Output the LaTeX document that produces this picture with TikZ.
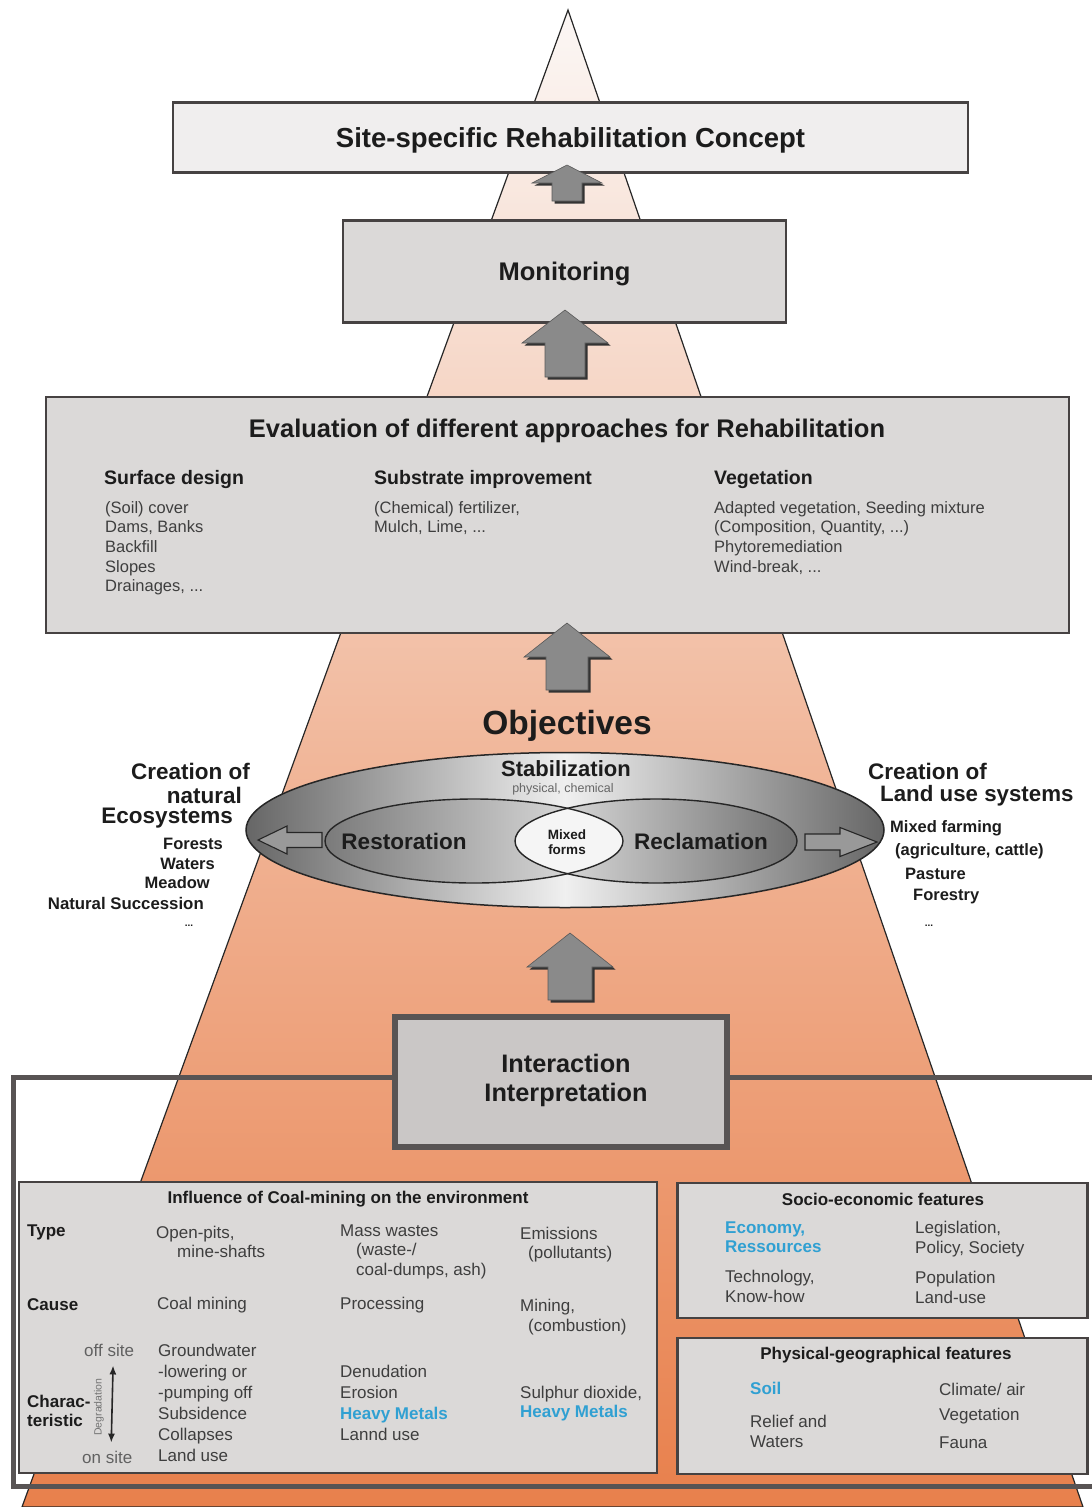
\documentclass[tikz,border=0pt]{standalone}
\usepackage{fontspec}
\setmainfont{Liberation Sans}
\usetikzlibrary{shapes.geometric,arrows.meta}

\definecolor{boxline}{RGB}{70,66,66}
\definecolor{framecol}{RGB}{88,84,84}
\definecolor{sitefill}{RGB}{240,238,238}
\definecolor{boxfill}{RGB}{219,217,216}
\definecolor{interfill}{RGB}{202,199,198}
\definecolor{titlecol}{RGB}{28,28,28}
\definecolor{itemgray}{RGB}{62,62,62}
\definecolor{hblue}{RGB}{48,160,210}
\definecolor{arrowgray}{RGB}{138,138,138}
\definecolor{pyrtop}{RGB}{251,247,245}
\definecolor{pyrmid}{RGB}{241,183,154}
\definecolor{pyrbot}{RGB}{232,128,76}

\newcommand{\hi}[1]{{\color{hblue}\bfseries #1}}
% block arrow: centre x, tip y, head base y, bottom y, head half width, shaft half width
\newcommand{\blockup}[6]{%
  \draw[blockarrow] (#1,#2) -- ({#1+#5},#3) -- ({#1+#6},#3) -- ({#1+#6},#4)
    -- ({#1-#6},#4) -- ({#1-#6},#3) -- ({#1-#5},#3) -- cycle;}

\tikzset{
  box/.style={draw=boxline, line width=2.5pt, fill=boxfill},
  frame/.style={draw=framecol, line width=5pt},
  blockarrow/.style={fill=arrowgray, draw=black!65, line width=0.6pt,
    preaction={fill=black!80, transform canvas={shift={(2.5pt,-2.5pt)}}}},
  hollow/.style={fill=black!40, draw=black!85, line width=1.1pt},
  ring/.style={draw=black!85, line width=1.4pt},
  head/.style={font=\bfseries\fontsize{25.5}{29}\selectfont, text=titlecol, align=center, text depth=0pt},
  sub/.style={font=\bfseries\fontsize{19.5}{22}\selectfont, text=titlecol, anchor=west},
  item/.style={font=\fontsize{16.5}{19.7}\selectfont, text=itemgray, anchor=north west, align=left},
  big/.style={font=\bfseries\fontsize{22.5}{24}\selectfont, text=titlecol},
  list/.style={font=\bfseries\fontsize{16.5}{18}\selectfont, text=titlecol},
  tag/.style={font=\bfseries\fontsize{17}{19}\selectfont, text=titlecol, anchor=west, align=left},
  cell/.style={font=\fontsize{17}{20}\selectfont, text=itemgray, anchor=north west, align=left}
}

\begin{document}
\begin{tikzpicture}[x=1pt,y=-1pt,every node/.style={inner sep=0pt}]
\useasboundingbox (0,0) rectangle (1092,1507);
\clip (0,0) rectangle (1092,1507);

% pyramid and frame
\shadedraw[top color=pyrtop, bottom color=pyrbot, middle color=pyrmid, draw=black!85, line width=1.2pt]
  (568,10) -- (1083,1507) -- (22,1507) -- cycle;
\draw[frame] (13,1077) rectangle (1110,1486);

% boxes
\node[box, fill=sitefill, minimum width=795pt, minimum height=70pt, head, font=\bfseries\fontsize{27.5}{30}\selectfont]
  (site) at (570.5,137.5) {Site-specific Rehabilitation Concept};
\node[box, minimum width=443pt, minimum height=102pt, head] (monitor) at (564.5,271.5) {Monitoring};
\node[box, minimum width=1023pt, minimum height=236pt] (eval) at (557.5,515) {};
\node[box, draw=framecol, line width=6pt, fill=interfill, minimum width=332pt, minimum height=130pt]
  (inter) at (561,1082) {};
\node[box, minimum width=638pt, minimum height=291pt] (infl) at (338,1327.5) {};
\node[box, minimum width=410pt, minimum height=135pt] (socio) at (882.5,1250.5) {};
\node[box, minimum width=410pt, minimum height=136pt] (phys) at (882.5,1406) {};

% arrows
\blockup{567}{165}{183}{201}{35}{15}
\blockup{565}{310}{343}{377}{43}{20}
\blockup{567}{623}{657}{690}{43}{21}
\blockup{570}{933}{967}{1000}{43}{22}

% evaluation
\node[head] (evalt) at (567,428) {Evaluation of different approaches for Rehabilitation};
\node[sub] (surf) at (104,479) {Surface design};
\node[sub] (subs) at (374,479) {Substrate improvement};
\node[sub] (veg) at (714,479) {Vegetation};
\node[item] (surfi) at (105,501) {(Soil) cover\\Dams, Banks\\Backfill\\Slopes\\Drainages, ...};
\node[item] (subsi) at (374,501) {(Chemical) fertilizer,\\Mulch, Lime, ...};
\node[item] (vegi) at (714,501) {Adapted vegetation, Seeding mixture\\(Composition, Quantity, ...)\\Phytoremediation\\Wind-break, ...};

% objectives
\node[head, font=\bfseries\fontsize{33.5}{36}\selectfont] (obj) at (567,722) {Objectives};
\node[ellipse, minimum width=638pt, minimum height=155pt, left color=black!60, right color=black!60,
  middle color=black!6, draw=black!85, line width=1.5pt] (stab) at (565,830) {};
\node[ellipse, minimum width=298pt, minimum height=84pt, left color=black!52, right color=black!8] (restor) at (474,841) {};
\node[ellipse, minimum width=282pt, minimum height=84pt, left color=black!8, right color=black!56] (reclam) at (656,841) {};
\begin{scope}
  \clip (restor.center) ellipse (149pt and 42pt);
  \fill[black!4] (reclam.center) ellipse (141pt and 42pt);
\end{scope}
\draw[ring] (restor.center) ellipse (149pt and 42pt);
\draw[ring] (reclam.center) ellipse (141pt and 42pt);
\draw[hollow] (258,840) -- (287,826) -- (287,832.5) -- (322,832.5) -- (322,847.5) -- (287,847.5) -- (287,854) -- cycle;
\draw[hollow] (877,842) -- (840,827.5) -- (840,834) -- (805,834) -- (805,850) -- (840,850) -- (840,856.5) -- cycle;
\node[big, font=\bfseries\fontsize{22}{24}\selectfont] (stabt) at (566,769) {Stabilization};
\node[font=\fontsize{12.5}{14}\selectfont, text=black!60] (stabs) at (563,789) {physical, chemical};
\node[big] (restort) at (404,841) {Restoration};
\node[big] (reclamt) at (701,841) {Reclamation};
\node[font=\bfseries\fontsize{13.5}{15.5}\selectfont, text=titlecol, align=center] (mixed) at (567,842) {Mixed\\forms};

% natural ecosystems
\node[big, anchor=east] (nat1) at (250,771) {Creation of};
\node[big, anchor=east] (nat2) at (242,795) {natural};
\node[big, anchor=east] (nat3) at (233,818) {Ecosystems};
\node[list, anchor=east] (nat4) at (223,844) {Forests};
\node[list, anchor=east] (nat5) at (215,864) {Waters};
\node[list, anchor=east] (nat6) at (210,883) {Meadow};
\node[list, anchor=east, font=\bfseries\fontsize{16.8}{18}\selectfont] (nat7) at (204,903) {Natural Succession};
\node[list, font=\bfseries\fontsize{10}{11}\selectfont] (nat8) at (189,926) {...};

% land use systems
\node[big, anchor=west] (land1) at (868,771) {Creation of};
\node[big, anchor=west, font=\bfseries\fontsize{22.3}{24}\selectfont] (land2) at (880,796) {Land use systems};
\node[list, anchor=west] (land3) at (890,828) {Mixed farming};
\node[list, anchor=west] (land4) at (895,851) {(agriculture, cattle)};
\node[list, anchor=west] (land5) at (905,874) {Pasture};
\node[list, anchor=west] (land6) at (913,897) {Forestry};
\node[list, font=\bfseries\fontsize{10}{11}\selectfont] (land7) at (929,926) {...};

% interaction
\node[head, font=\bfseries\fontsize{25.3}{29}\selectfont] (intert) at (566,1078) {Interaction\\Interpretation};

% influence of coal mining
\node[tag, anchor=center] (inflt) at (348,1199) {Influence of Coal-mining on the environment};
\node[tag] (type) at (27,1232) {Type};
\node[tag] (cause) at (27,1305) {Cause};
\node[tag, anchor=north west] (charac) at (27,1394.5) {Charac-\\teristic};
\node[cell, font=\fontsize{17}{19}\selectfont] (pits) at (156,1225.5) {Open-pits,\\\hspace*{21pt}mine-shafts};
\node[cell, font=\fontsize{17}{19.5}\selectfont] (mass) at (340,1224.5) {Mass wastes\\\hspace*{16pt}(waste-/\\\hspace*{16pt}coal-dumps, ash)};
\node[cell, font=\fontsize{17}{19}\selectfont] (emis) at (520,1226.5) {Emissions\\\hspace*{8pt}(pollutants)};
\node[cell, anchor=west] (coal) at (157,1305) {Coal mining};
\node[cell, anchor=west] (proc) at (340,1305) {Processing};
\node[cell] (mining) at (520,1298.5) {Mining,\\\hspace*{8pt}(combustion)};
\node[cell, font=\fontsize{17}{21}\selectfont] (ground) at (158,1343.5) {Groundwater\\-lowering or\\-pumping off\\Subsidence\\Collapses\\Land use};
\node[cell, font=\fontsize{17}{21.3}\selectfont] (denud) at (340,1364.5) {Denudation\\Erosion\\\hi{Heavy Metals}\\Lannd use};
\node[cell, font=\fontsize{17}{19.5}\selectfont] (sulph) at (520,1385.5) {Sulphur dioxide,\\\hi{Heavy Metals}};
\node[cell, anchor=west, text=black!62] (offsite) at (84,1350) {off site};
\node[cell, anchor=west, text=black!62] (onsite) at (82,1457) {on site};
\draw[{Latex[length=9pt,width=7pt]}-{Latex[length=9pt,width=7pt]}, line width=1.6pt, black!85]
  ([xshift=4pt,yshift=-9pt]offsite.south) -- ([xshift=4pt,yshift=8pt]onsite.north);
\node[font=\fontsize{10.5}{11}\selectfont, text=black!55, rotate=90] (degr) at (99,1407) {Degradation};

% socio-economic features
\node[tag, anchor=center] (sociot) at (883,1199) {Socio-economic features};
\node[cell, font=\fontsize{17}{19}\selectfont] (econ) at (725,1221.5) {\hi{Economy,}\\\hi{Ressources}};
\node[cell] (tech) at (725,1269.5) {Technology,\\Know-how};
\node[cell] (legis) at (915,1220.5) {Legislation,\\Policy, Society};
\node[cell] (popul) at (915,1270.5) {Population\\Land-use};

% physical-geographical features
\node[tag, anchor=center] (physt) at (886,1355) {Physical-geographical features};
\node[cell, anchor=west] (soil) at (750,1388) {\hi{Soil}};
\node[cell] (relief) at (750,1414.5) {Relief and\\Waters};
\node[cell, anchor=west] (clim) at (939,1389) {Climate/ air};
\node[cell, anchor=west] (vegt) at (939,1416) {Vegetation};
\node[cell, anchor=west] (fauna) at (939,1443) {Fauna};
\end{tikzpicture}
\end{document}
